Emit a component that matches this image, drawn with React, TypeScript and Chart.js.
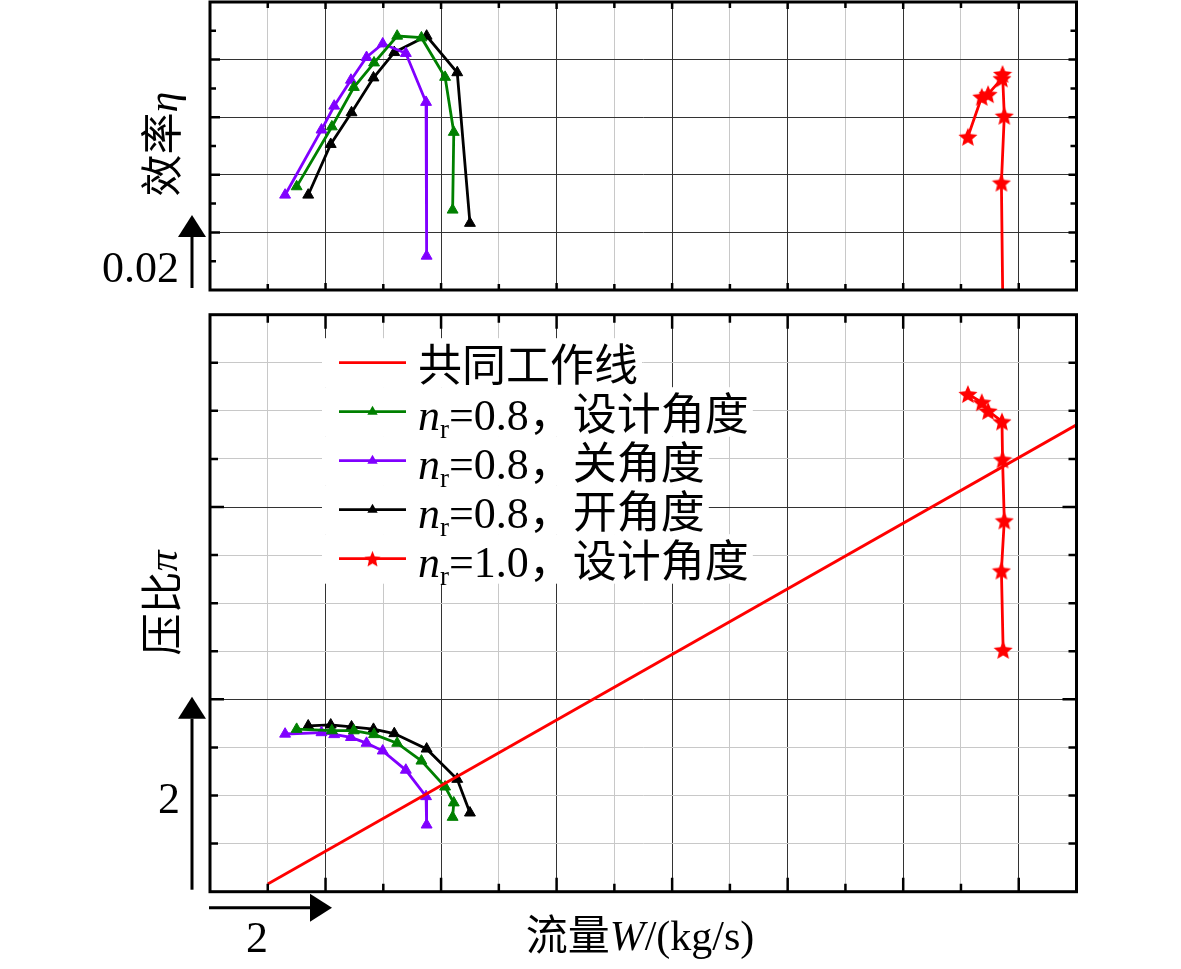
import React, { useEffect, useRef } from 'react';
import { Chart, registerables } from 'chart.js';

Chart.register(...registerables);

const PAGE_W = 1181;
const PAGE_H = 969;

// ---- data (flow in grid units on a 0..15 axis; eta on 0..10; pi on 0..12) ----
const GREEN_W = [1.50, 2.11, 2.49, 2.84, 3.24, 3.66, 4.07, 4.22, 4.20];
const GREEN_ETA = [3.59, 5.67, 7.04, 7.89, 8.82, 8.76, 7.39, 5.48, 2.78];
const GREEN_PI = [3.38, 3.35, 3.35, 3.27, 3.09, 2.72, 2.18, 1.85, 1.55];

const PURPLE_W = [1.30, 1.93, 2.15, 2.44, 2.71, 2.99, 3.39, 3.74, 3.75];
const PURPLE_ETA = [3.30, 5.56, 6.39, 7.29, 8.08, 8.55, 8.22, 6.52, 1.18];
const PURPLE_PI = [3.28, 3.31, 3.27, 3.21, 3.09, 2.93, 2.53, 1.98, 1.39];

const BLACK_W = [1.70, 2.09, 2.45, 2.83, 3.19, 3.75, 4.28, 4.50];
const BLACK_ETA = [3.30, 5.06, 6.16, 7.37, 8.25, 8.82, 7.55, 2.32];
const BLACK_PI = [3.45, 3.47, 3.43, 3.38, 3.29, 2.97, 2.34, 1.64];

const RED_W = [13.12, 13.36, 13.47, 13.71, 13.72, 13.75, 13.70, 13.73];
const RED_ETA = [5.32, 6.71, 6.80, 7.35, 7.50, 6.05, 3.73, -1.5];
const RED_PI = [10.35, 10.18, 10.0, 9.78, 8.99, 7.72, 6.68, 5.03];

const WORK_W = [1.0, 15.0];
const WORK_PI = [0.16, 9.71];

const X_MIN = 0, X_MAX = 15;
const ETA_MIN = 0, ETA_MAX = 10;
const PI_MIN = 0, PI_MAX = 12;

// ---- styling ----
const DARK = '#333333';
const LIGHT = '#c8c8c8';
const C_GREEN = '#008000';
const C_PURPLE = '#8000ff';
const C_BLACK = '#000000';
const C_RED = '#ff0000';
const SERIF = '"Liberation Serif", "Times New Roman", serif';
const CJK = '"Noto Sans CJK SC", sans-serif';

const FRAME_L = 210;
const FRAME_R = 1076.5;
const TOP_T = 2, TOP_B = 290;
const BOT_T = 314.7, BOT_B = 891.7;

const TRI_R = 6.3;
const LINE_W = 2.8;

type Piece = { t: string; font: string; dy?: number };

function drawPieces(ctx: CanvasRenderingContext2D, pieces: Piece[], x: number, y: number, align: 'left' | 'center' | 'right') {
  let total = 0;
  for (const p of pieces) { ctx.font = p.font; total += ctx.measureText(p.t).width; }
  let cx = align === 'left' ? x : align === 'center' ? x - total / 2 : x - total;
  ctx.textAlign = 'left';
  ctx.textBaseline = 'alphabetic';
  for (const p of pieces) {
    ctx.font = p.font;
    ctx.fillText(p.t, cx, y + (p.dy || 0));
    cx += ctx.measureText(p.t).width;
  }
  return cx;
}

function drawArrow(ctx: CanvasRenderingContext2D, x0: number, y0: number, x1: number, y1: number, head = 22, halfW = 14) {
  const ang = Math.atan2(y1 - y0, x1 - x0);
  const bx = x1 - Math.cos(ang) * head, by = y1 - Math.sin(ang) * head;
  ctx.save();
  ctx.strokeStyle = '#000';
  ctx.fillStyle = '#000';
  ctx.lineWidth = 3;
  ctx.beginPath(); ctx.moveTo(x0, y0); ctx.lineTo(bx, by); ctx.stroke();
  ctx.beginPath();
  ctx.moveTo(x1, y1);
  ctx.lineTo(bx - Math.sin(ang) * halfW, by + Math.cos(ang) * halfW);
  ctx.lineTo(bx + Math.sin(ang) * halfW, by - Math.cos(ang) * halfW);
  ctx.closePath(); ctx.fill();
  ctx.restore();
}

function makeStar(size: number, color: string) {
  const c = document.createElement('canvas');
  c.width = size; c.height = size;
  const g = c.getContext('2d')!;
  const R = size / 2, r = R * 0.45, cx = size / 2, cy = size / 2 + R * 0.1;
  g.beginPath();
  for (let i = 0; i < 10; i++) {
    const rad = i % 2 === 0 ? R : r;
    const a = -Math.PI / 2 + (i * Math.PI) / 5;
    const px = cx + rad * Math.cos(a), py = cy + rad * Math.sin(a);
    if (i === 0) g.moveTo(px, py); else g.lineTo(px, py);
  }
  g.closePath();
  g.fillStyle = color;
  g.fill();
  return c;
}

type TickSpec = { xMaj: number; xMin: number; yMajL: number; yMinL: number; yMajR: number; yMinR: number; xEvery: number; yEvery: number };

function drawFrame(chart: any, t: TickSpec) {
  const { ctx, chartArea: a } = chart;
  const xs = chart.scales.x, ys = chart.scales.y;
  ctx.save();
  ctx.strokeStyle = '#000';
  ctx.lineWidth = 2.5;
  ctx.beginPath();
  for (const tk of xs.ticks) {
    const v = tk.value;
    if (v <= xs.min || v >= xs.max) continue;
    const px = xs.getPixelForValue(v);
    const len = Math.round(v) % t.xEvery === 0 ? t.xMaj : t.xMin;
    ctx.moveTo(px, a.bottom); ctx.lineTo(px, a.bottom - len);
    ctx.moveTo(px, a.top); ctx.lineTo(px, a.top + len);
  }
  for (const tk of ys.ticks) {
    const v = tk.value;
    if (v <= ys.min || v >= ys.max) continue;
    const py = ys.getPixelForValue(v);
    const major = Math.round(v) % t.yEvery === 0;
    ctx.moveTo(a.left, py); ctx.lineTo(a.left + (major ? t.yMajL : t.yMinL), py);
    ctx.moveTo(a.right, py); ctx.lineTo(a.right - (major ? t.yMajR : t.yMinR), py);
  }
  ctx.stroke();
  ctx.lineWidth = 3;
  ctx.strokeRect(a.left, a.top, a.right - a.left, a.bottom - a.top);
  ctx.restore();
}

function series(xs: number[], ys: number[], color: string, style: any, radius: number, label: string) {
  return {
    label,
    data: xs.map((x, i) => ({ x, y: ys[i] })),
    borderColor: color,
    backgroundColor: color,
    borderWidth: LINE_W,
    pointStyle: style,
    pointRadius: radius,
    pointBorderWidth: 1,
    pointBackgroundColor: color,
    pointBorderColor: color,
    showLine: true,
    fill: false,
    tension: 0,
  };
}

const nr = (val: string, tail: string): Piece[] => [
  { t: 'n', font: `italic 44px ${SERIF}` },
  { t: 'r', font: `27px ${SERIF}`, dy: 8 },
  { t: val, font: `44px ${SERIF}` },
  { t: '，' + tail, font: `44px ${CJK}` },
];

const LEGEND_LABELS: Piece[][] = [
  [{ t: '共同工作线', font: `44px ${CJK}` }],
  nr('=0.8', '设计角度'),
  nr('=0.8', '关角度'),
  nr('=0.8', '开角度'),
  nr('=1.0', '设计角度'),
];
const LEGEND_COLORS = [C_RED, C_GREEN, C_PURPLE, C_BLACK, C_RED];
const LEGEND_MARKERS = ['none', 'triangle', 'triangle', 'triangle', 'star'];

export default function App() {
  const topRef = useRef<HTMLCanvasElement>(null);
  const botRef = useRef<HTMLCanvasElement>(null);

  useEffect(() => {
    const star = makeStar(20, C_RED);
    const legendStar = makeStar(17, C_RED);

    const xScale = (gridColor: (v: number) => string) => ({
      type: 'linear' as const,
      min: X_MIN,
      max: X_MAX,
      ticks: { display: false, stepSize: 1 },
      grid: { color: (c: any) => gridColor(c.tick.value), lineWidth: 1, drawTicks: false },
      border: { display: false },
    });

    const topChart = new Chart(topRef.current!, {
      type: 'line',
      data: {
        datasets: [
          series(GREEN_W, GREEN_ETA, C_GREEN, 'triangle', TRI_R, 'g'),
          series(PURPLE_W, PURPLE_ETA, C_PURPLE, 'triangle', TRI_R, 'p'),
          series(BLACK_W, BLACK_ETA, C_BLACK, 'triangle', TRI_R, 'b'),
          series(RED_W, RED_ETA, C_RED, star, 10, 'r'),
        ] as any,
      },
      options: {
        animation: false,
        responsive: false,
        layout: { autoPadding: false, padding: { left: FRAME_L, right: PAGE_W - FRAME_R, top: TOP_T, bottom: PAGE_H - TOP_B } },
        plugins: { legend: { display: false }, tooltip: { enabled: false }, title: { display: false } },
        scales: {
          x: xScale((v) => (Math.round(v) % 2 === 0 ? DARK : LIGHT)),
          y: {
            type: 'linear',
            min: ETA_MIN,
            max: ETA_MAX,
            ticks: { display: false, stepSize: 1 },
            grid: { color: (c: any) => (Math.round(c.tick.value) % 2 === 0 ? DARK : 'rgba(0,0,0,0)'), lineWidth: 1, drawTicks: false },
            border: { display: false },
          },
        },
      } as any,
      plugins: [
        {
          id: 'topFrame',
          afterDatasetsDraw(chart: any) {
            drawFrame(chart, { xMaj: 7, xMin: 6, yMajL: 10, yMinL: 6, yMajR: 8, yMinR: 6, xEvery: 2, yEvery: 2 });
          },
          afterDraw(chart: any) {
            const { ctx, chartArea: a } = chart;
            ctx.save();
            ctx.fillStyle = '#000';
            ctx.translate(177, 144);
            ctx.rotate(-Math.PI / 2);
            drawPieces(ctx, [{ t: '效率', font: `42px ${CJK}` }, { t: 'η', font: `italic 42px ${SERIF}` }], 0, 0, 'center');
            ctx.restore();
            ctx.save();
            ctx.fillStyle = '#000';
            drawPieces(ctx, [{ t: '0.02', font: `44px ${SERIF}` }], 179, a.bottom - 8, 'right');
            ctx.restore();
            drawArrow(ctx, a.left - 18, a.bottom - 2, a.left - 18, a.bottom - 75);
          },
        },
      ],
    });

    const botChart = new Chart(botRef.current!, {
      type: 'line',
      data: {
        datasets: [
          series(WORK_W, WORK_PI, C_RED, 'circle', 0, 'work'),
          series(GREEN_W, GREEN_PI, C_GREEN, 'triangle', TRI_R, 'g'),
          series(PURPLE_W, PURPLE_PI, C_PURPLE, 'triangle', TRI_R, 'p'),
          series(BLACK_W, BLACK_PI, C_BLACK, 'triangle', TRI_R, 'b'),
          series(RED_W, RED_PI, C_RED, star, 10, 'r'),
        ] as any,
      },
      options: {
        animation: false,
        responsive: false,
        layout: { autoPadding: false, padding: { left: FRAME_L, right: PAGE_W - FRAME_R, top: BOT_T, bottom: PAGE_H - BOT_B } },
        plugins: { legend: { display: false }, tooltip: { enabled: false }, title: { display: false } },
        scales: {
          x: xScale((v) => (Math.round(v) % 2 === 0 ? DARK : LIGHT)),
          y: {
            type: 'linear',
            min: PI_MIN,
            max: PI_MAX,
            ticks: { display: false, stepSize: 1 },
            grid: { color: (c: any) => (Math.round(c.tick.value) % 4 === 0 ? DARK : LIGHT), lineWidth: 1, drawTicks: false },
            border: { display: false },
          },
        },
      } as any,
      plugins: [
        {
          id: 'botFrame',
          afterDatasetsDraw(chart: any) {
            drawFrame(chart, { xMaj: 14, xMin: 8, yMajL: 14, yMinL: 8, yMajR: 14, yMinR: 8, xEvery: 2, yEvery: 4 });
          },
          afterDraw(chart: any) {
            const { ctx, chartArea: a } = chart;
            // legend
            const rowY0 = a.top + 48;
            const rowH = 49;
            const lineX0 = a.left + 129, lineX1 = a.left + 196, textX = a.left + 208;
            LEGEND_LABELS.forEach((pieces, i) => {
              const y = rowY0 + i * rowH;
              let w = 0;
              for (const p of pieces) { ctx.font = p.font; w += ctx.measureText(p.t).width; }
              ctx.save();
              ctx.fillStyle = '#ffffff';
              ctx.fillRect(a.left + 112, y - rowH / 2, textX + w + 4 - (a.left + 112), rowH + 0.5);
              ctx.restore();
            });
            LEGEND_LABELS.forEach((pieces, i) => {
              const y = rowY0 + i * rowH;
              const color = LEGEND_COLORS[i];
              ctx.save();
              ctx.strokeStyle = color;
              ctx.lineWidth = LINE_W;
              ctx.beginPath(); ctx.moveTo(lineX0, y); ctx.lineTo(lineX1, y); ctx.stroke();
              const mx = (lineX0 + lineX1) / 2;
              if (LEGEND_MARKERS[i] === 'triangle') {
                const r = 6;
                ctx.fillStyle = color;
                ctx.beginPath();
                ctx.moveTo(mx, y - r);
                ctx.lineTo(mx + r * 0.866, y + r * 0.5);
                ctx.lineTo(mx - r * 0.866, y + r * 0.5);
                ctx.closePath();
                ctx.fill();
              } else if (LEGEND_MARKERS[i] === 'star') {
                ctx.drawImage(legendStar, mx - legendStar.width / 2, y - legendStar.height / 2);
              }
              ctx.fillStyle = '#000';
              drawPieces(ctx, pieces, textX, y + 18, 'left');
              ctx.restore();
            });

            // y title
            ctx.save();
            ctx.fillStyle = '#000';
            ctx.translate(177, 603);
            ctx.rotate(-Math.PI / 2);
            drawPieces(ctx, [{ t: '压比', font: `42px ${CJK}` }, { t: 'π', font: `italic 42px ${SERIF}` }], 0, 0, 'center');
            ctx.restore();

            ctx.save();
            ctx.fillStyle = '#000';
            drawPieces(ctx, [{ t: '2', font: `44px ${SERIF}` }], 169, 813, 'center');
            drawPieces(ctx, [{ t: '2', font: `44px ${SERIF}` }], 257, 952, 'center');
            drawPieces(
              ctx,
              [
                { t: '流量', font: `42px ${CJK}` },
                { t: 'W', font: `italic 42px ${SERIF}` },
                { t: '/(kg/s)', font: `42px ${SERIF}` },
              ],
              640,
              950,
              'center'
            );
            ctx.restore();

            drawArrow(ctx, a.left - 18, a.bottom - 2, a.left - 18, a.bottom - 195);
            drawArrow(ctx, a.left - 1, a.bottom + 16, a.left + 122, a.bottom + 16);
          },
        },
      ],
    });

    return () => {
      topChart.destroy();
      botChart.destroy();
    };
  }, []);

  return (
    <div style={{ position: 'absolute', left: 0, top: 0, width: PAGE_W, height: PAGE_H, background: '#ffffff', overflow: 'hidden' }}>
      <canvas ref={topRef} width={PAGE_W} height={PAGE_H} style={{ position: 'absolute', left: 0, top: 0 }} />
      <canvas ref={botRef} width={PAGE_W} height={PAGE_H} style={{ position: 'absolute', left: 0, top: 0 }} />
    </div>
  );
}
